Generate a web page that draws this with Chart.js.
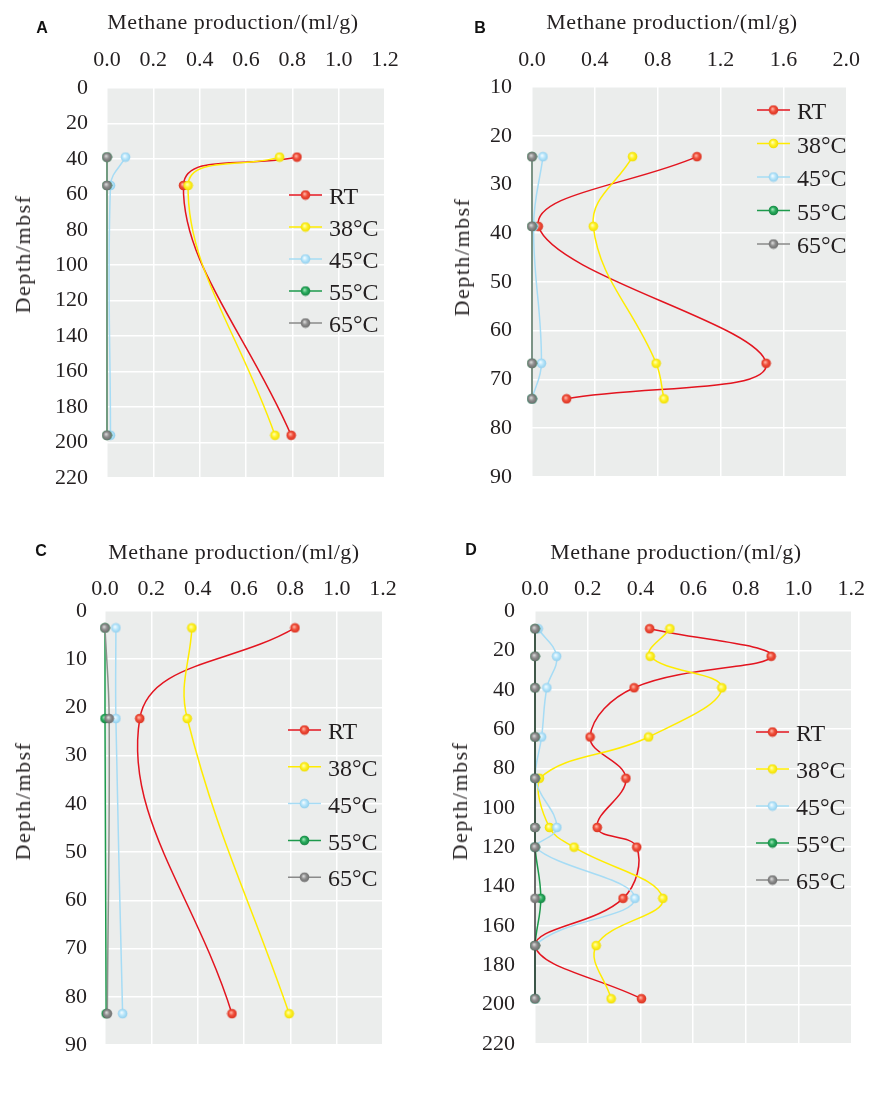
<!DOCTYPE html>
<html>
<head>
<meta charset="utf-8">
<script src="https://cdn.jsdelivr.net/npm/chart.js@4.4.0/dist/chart.umd.min.js"></script>
<style>
  body { margin: 0; background: #fff; width: 874px; height: 1119px; position: relative; overflow: hidden; font-family: "Liberation Serif", "Times New Roman", serif; }
  .panel { position: absolute; }
  .tag { position: absolute; font-family: "Liberation Sans", Arial, sans-serif; font-weight: bold; font-size: 16px; color: #111; transform: translate(-50%, -50%); }
  .xt { position: absolute; font-size: 22px; letter-spacing: 0.5px; color: #231f20; transform: translate(-50%, -50%); white-space: nowrap; }
  .yt { position: absolute; font-size: 22px; letter-spacing: 1.5px; color: #231f20; transform: translate(-50%, -50%) rotate(-90deg); white-space: nowrap; }
</style>
</head>
<body>

<div class="panel" style="left:0;top:0"><canvas id="chartA" width="437" height="510"></canvas></div>
<div class="panel" style="left:437px;top:0"><canvas id="chartB" width="437" height="510"></canvas></div>
<div class="panel" style="left:0;top:530px"><canvas id="chartC" width="437" height="589"></canvas></div>
<div class="panel" style="left:437px;top:530px"><canvas id="chartD" width="437" height="589"></canvas></div>

<div class="tag" style="left:42px;top:28px">A</div>
<div class="tag" style="left:480px;top:28px">B</div>
<div class="tag" style="left:41px;top:551px">C</div>
<div class="tag" style="left:471px;top:550px">D</div>

<div class="xt" style="left:233px;top:22px">Methane production/(ml/g)</div>
<div class="xt" style="left:672px;top:22px">Methane production/(ml/g)</div>
<div class="xt" style="left:234px;top:552px">Methane production/(ml/g)</div>
<div class="xt" style="left:676px;top:552px">Methane production/(ml/g)</div>

<div class="yt" style="left:23px;top:254px">Depth/mbsf</div>
<div class="yt" style="left:462px;top:257px">Depth/mbsf</div>
<div class="yt" style="left:23px;top:801px">Depth/mbsf</div>
<div class="yt" style="left:460px;top:801px">Depth/mbsf</div>

<script>
// series names shared by all panels
const seriesNames = ['RT', '38°C', '45°C', '55°C', '65°C'];

// panel A
const depthA = [39, 55, 196];
const rtA = [0.82, 0.33, 0.795];
const t38A = [0.745, 0.35, 0.725];
const t45A = [0.08, 0.015, 0.015];
const t55A = [0.0, 0.0, 0.0];
const t65A = [0.0, 0.0, 0.0];

// panel B
const depthB = [24.3, 38.6, 66.7, 74];
const rtB = [1.05, 0.04, 1.49, 0.22];
const t38B = [0.64, 0.39, 0.79, 0.84];
const t45B = [0.07, 0.01, 0.06, 0.0];
const t55B = [0.0, 0.0, 0.0, 0.0];
const t65B = [0.0, 0.0, 0.0, 0.0];

// panel C
const depthC = [3.5, 22.3, 83.5];
const rtC = [0.82, 0.15, 0.548];
const t38C = [0.375, 0.355, 0.795];
const t45C = [0.047, 0.047, 0.076];
const t55C = [0.0, 0.0, 0.005];
const t65C = [0.0, 0.018, 0.01];

// panel D
const depthD = [9, 23, 39, 64, 85, 110, 120, 146, 170, 197];
const rtD = [0.435, 0.896, 0.376, 0.209, 0.345, 0.236, 0.386, 0.334, 0.0, 0.404];
const t38D = [0.512, 0.437, 0.709, 0.431, 0.017, 0.055, 0.148, 0.485, 0.232, 0.289];
const t45D = [0.012, 0.082, 0.045, 0.025, 0.0, 0.083, 0.0, 0.379, 0.0, 0.0];
const t55D = [0, 0, 0, 0, 0, 0, 0, 0.022, 0, 0];
const t65D = [0, 0, 0, 0, 0, 0, 0, 0, 0, 0];

const lineColors = ['#e3141f', '#ffec00', '#a6dcf5', '#1d9a4c', '#8a8a8a'];
const dotLight = ['#ffb3a3', '#ffffb0', '#f2fbff', '#9be0b4', '#d8d8d8'];
const dotFill = ['#f0503c', '#fff22a', '#b8e6fb', '#2aad5e', '#8f8f8f'];
const dotEdge = ['#d8301f', '#eedc00', '#8fcdec', '#138040', '#6a6a6a'];

Chart.defaults.font.family = '"Liberation Serif", "Times New Roman", serif';
Chart.defaults.color = '#231f20';

function makeDot(light, fill, edge) {
  const c = document.createElement('canvas');
  c.width = 11;
  c.height = 11;
  const g = c.getContext('2d');
  const grad = g.createRadialGradient(4.5, 4.3, 0.4, 5.5, 5.5, 5);
  grad.addColorStop(0, light);
  grad.addColorStop(0.45, fill);
  grad.addColorStop(1, edge);
  g.fillStyle = grad;
  g.beginPath();
  g.arc(5.5, 5.5, 4.8, 0, Math.PI * 2);
  g.fill();
  return c;
}
const dots = seriesNames.map((n, i) => makeDot(dotLight[i], dotFill[i], dotEdge[i]));

const plotBg = {
  id: 'plotBg',
  beforeDraw(chart) {
    const { ctx, chartArea: a } = chart;
    ctx.save();
    ctx.fillStyle = '#ebedec';
    ctx.fillRect(a.left, a.top, a.right - a.left, a.bottom - a.top);
    ctx.restore();
  }
};

// legend drawn inside the plot, one row per dataset
const sideLegend = {
  id: 'sideLegend',
  afterDraw(chart, args, opts) {
    const ctx = chart.ctx;
    ctx.save();
    chart.data.datasets.forEach((ds, i) => {
      const y = opts.y + i * opts.gap;
      ctx.strokeStyle = i === 4 ? '#8a8a8a' : ds.borderColor;
      ctx.lineWidth = 1.5;
      ctx.beginPath();
      ctx.moveTo(opts.x, y);
      ctx.lineTo(opts.x + 33, y);
      ctx.stroke();
      const img = ds.pointStyle;
      ctx.drawImage(img, opts.x + 16.5 - img.width / 2, y - img.height / 2);
      ctx.fillStyle = '#231f20';
      ctx.font = '24px "Liberation Serif", serif';
      ctx.textBaseline = 'middle';
      ctx.fillText(ds.label, opts.x + 40, y + 3);
    });
    ctx.restore();
  }
};

function makePanel(id, depths, series, cfg) {
  const datasets = series.map((vals, i) => ({
    label: seriesNames[i],
    data: vals.map((v, k) => ({ x: v, y: depths[k] })),
    borderColor: i === 4 ? cfg.grayLine : lineColors[i],
    borderWidth: 1.5,
    pointStyle: dots[i],
    showLine: true,
    tension: 0.4,
    clip: false,
    order: 5 - i
  }));

  new Chart(document.getElementById(id), {
    type: 'scatter',
    data: { datasets },
    options: {
      responsive: false,
      animation: false,
      layout: { padding: { top: 0, left: 0, right: cfg.padRight, bottom: cfg.padBottom } },
      plugins: {
        legend: { display: false },
        tooltip: { enabled: false },
        sideLegend: cfg.legend
      },
      scales: {
        x: {
          type: 'linear',
          position: 'top',
          min: 0,
          max: cfg.xMax,
          ticks: { stepSize: cfg.xStep, padding: cfg.xPad, font: { size: 22 }, callback: v => Number(v).toFixed(1) },
          grid: { color: '#ffffff', lineWidth: 1.5, drawTicks: false },
          border: { display: false },
          afterFit: s => { s.height = cfg.xHeight; }
        },
        y: {
          type: 'linear',
          reverse: true,
          min: cfg.yMin,
          max: cfg.yMax,
          ticks: { stepSize: cfg.yStep, padding: cfg.yPad, font: { size: 22 } },
          grid: { color: '#ffffff', lineWidth: 1.5, drawTicks: false },
          border: { display: false },
          afterFit: s => { s.width = cfg.yWidth; }
        }
      }
    },
    plugins: [plotBg, sideLegend]
  });
}

makePanel('chartA', depthA, [rtA, t38A, t45A, t55A, t65A], {
  xMax: 1.2, xStep: 0.2, yMin: 0, yMax: 220, yStep: 20,
  xHeight: 88, yWidth: 107, padRight: 52, padBottom: 23, xPad: 15, yPad: 19,
  grayLine: '#7d9485',
  legend: { x: 289, y: 195, gap: 32 }
});

makePanel('chartB', depthB, [rtB, t38B, t45B, t55B, t65B], {
  xMax: 2.0, xStep: 0.4, yMin: 10, yMax: 90, yStep: 10,
  xHeight: 87, yWidth: 95, padRight: 19, padBottom: 30, xPad: 14, yPad: 20,
  grayLine: '#8a8a8a',
  legend: { x: 320, y: 110, gap: 33.5 }
});

makePanel('chartC', depthC, [rtC, t38C, t45C, t55C, t65C], {
  xMax: 1.2, xStep: 0.2, yMin: 0, yMax: 90, yStep: 10,
  xHeight: 81, yWidth: 105, padRight: 54, padBottom: 74, xPad: 9, yPad: 18,
  grayLine: '#8a928c',
  legend: { x: 288, y: 200, gap: 36.8 }
});

makePanel('chartD', depthD, [rtD, t38D, t45D, t55D, t65D], {
  xMax: 1.2, xStep: 0.2, yMin: 0, yMax: 220, yStep: 20,
  xHeight: 81, yWidth: 98, padRight: 18, padBottom: 75, xPad: 9, yPad: 20,
  grayLine: '#3a3a3a',
  legend: { x: 319, y: 202, gap: 37 }
});
</script>
</body>
</html>
